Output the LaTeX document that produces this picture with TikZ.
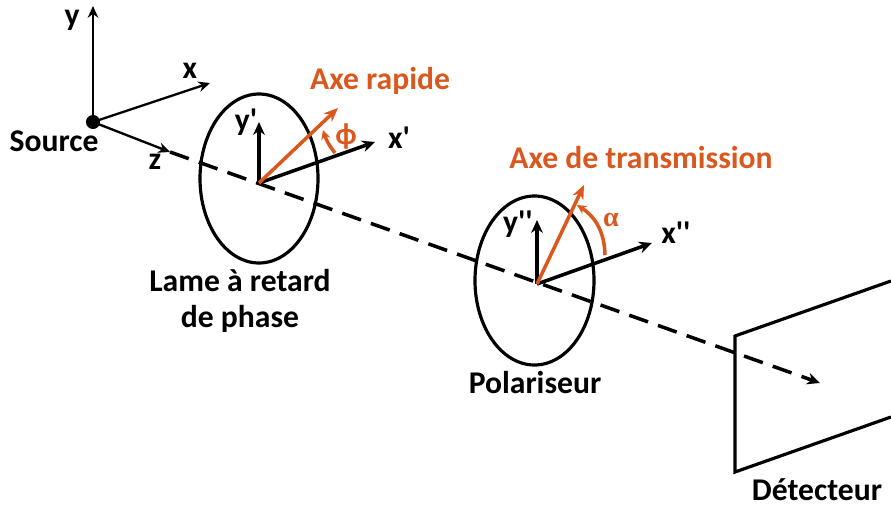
\documentclass[tikz,border=0pt]{standalone}
\usepackage{xcolor}
\usepackage{fontspec}
\newfontfamily\labelfont{Carlito}
\newfontfamily\greekserif{Liberation Serif}
\usetikzlibrary{shapes.geometric, arrows.meta}
\definecolor{axeorange}{RGB}{218,88,30}

\begin{document}
\begin{tikzpicture}[
    x=0.03cm, y=-0.03cm,
    label/.style={font=\fontsize{27}{31}\selectfont\labelfont\bfseries, inner sep=0pt, align=center},
    orangelabel/.style={label, text=axeorange},
    lame/.style={ellipse, draw, line width=2.7pt, inner sep=0pt},
    axis/.style={-{Stealth[length=10pt, width=9pt]}, line width=2pt},
    primed/.style={-{Stealth[length=11pt, width=10pt]}, line width=3pt},
    fast/.style={-{Stealth[length=12pt, width=10pt]}, line width=3pt, draw=axeorange, color=axeorange},
    beam/.style={-{Stealth[length=11pt, width=10pt]}, line width=3pt, dash pattern=on 17pt off 9pt}
]
\useasboundingbox (0,0) rectangle (891,507);

% Source frame
\node[circle, fill, minimum size=12pt, inner sep=0pt] (source) at (93,122) {};
\coordinate (ytip) at (93,6);
\coordinate (xtip) at (210,83);
\coordinate (ztip) at (170,152);
\draw[axis] (source.center) -- (ytip);
\draw[axis] (source.center) -- (xtip);
\draw[axis] (source.center) -- (ztip);
\node[label] (ylab) at (72,20) {y};
\node[label] (xlab) at (190,71) {x};
\node[label] (zlab) at (155,162) {z};
\node[label] (srclab) at (54,141) {Source};

% Beam
\coordinate (beamend) at (820,383);
\draw[beam] (ztip) -- (beamend);

% Lame
\node[lame, minimum width=118*0.03cm, minimum height=169*0.03cm] (plate) at (259,178.5) {};
\coordinate (o1) at (259,183);
\coordinate (y1) at (259,122);
\coordinate (x1) at (375,142);
\coordinate (fasttip) at (338,108);
\draw[primed] (o1) -- (y1);
\draw[primed] (o1) -- (x1);
\draw[fast] (o1) -- (fasttip);
\coordinate (phistart) at (335,153);
\coordinate (phiend) at (323,130);
\draw[fast, -{Stealth[length=8pt, width=8pt]}] (phistart) to[bend left=10] (phiend);
\node[orangelabel, font=\fontsize{26}{28}\selectfont\bfseries\labelfont] (philab) at (346,136) {ϕ};
\node[label] (y1lab) at (246,122) {y'};
\node[label] (x1lab) at (399,138) {x'};
\node[orangelabel] (fastlab) at (380,81) {Axe rapide};
\node[label] (platelab) at (240,301) {Lame à retard\\de phase};

% Polariseur
\node[lame, minimum width=119*0.03cm, minimum height=169*0.03cm] (pol) at (534.5,280.5) {};
\coordinate (o2) at (537,284);
\coordinate (y2) at (537,220);
\coordinate (x2) at (652,243);
\coordinate (transtip) at (584,185);
\draw[primed] (o2) -- (y2);
\draw[primed] (o2) -- (x2);
\draw[fast] (o2) -- (transtip);
\coordinate (alphastart) at (605,255);
\coordinate (alphaend) at (577,205);
\draw[fast, -{Stealth[length=8pt, width=8pt]}] (alphastart) to[bend right=28] (alphaend);
\node[orangelabel, font=\fontsize{24}{26}\selectfont\bfseries\greekserif] (alphalab) at (611,220) {α};
\node[label] (y2lab) at (518,224) {y''};
\node[label] (x2lab) at (676,233) {x''};
\node[orangelabel] (translab) at (641,158) {Axe de transmission};
\node[label] (pollab) at (535,383) {Polariseur};

% Detecteur
\coordinate (d1) at (891,281);
\coordinate (d2) at (735,336);
\coordinate (d3) at (735,472);
\coordinate (d4) at (891,417);
\draw[line width=2.7pt, line join=miter] (d1) -- (d2) -- (d3) -- (d4);
\node[label] (detlab) at (817,490) {Détecteur};

\end{tikzpicture}
\end{document}
